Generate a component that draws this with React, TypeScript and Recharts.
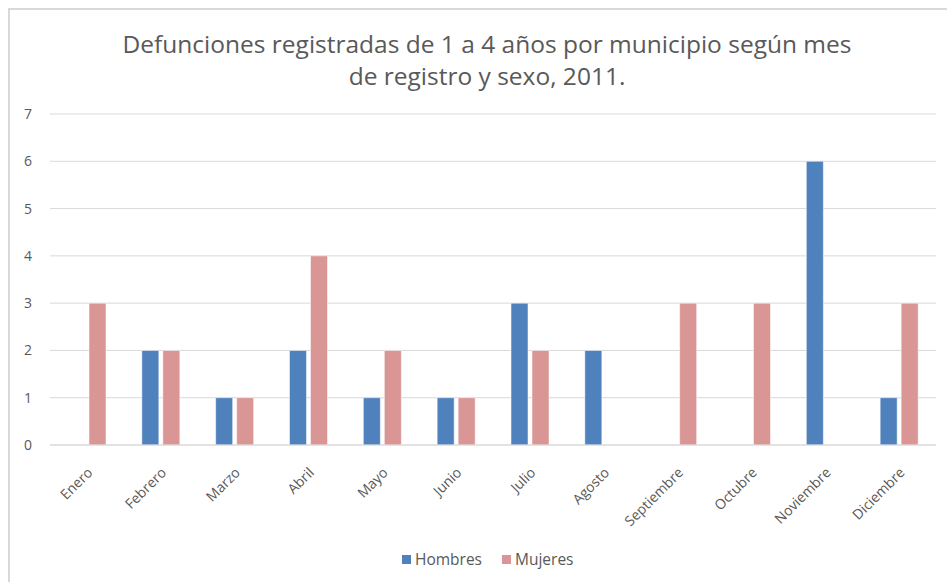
import { Bar, BarChart, CartesianGrid, XAxis, YAxis } from "recharts"

const months = ["Enero", "Febrero", "Marzo", "Abril", "Mayo", "Junio", "Julio", "Agosto", "Septiembre", "Octubre", "Noviembre", "Diciembre"]
const hombres = [0, 2, 1, 2, 1, 1, 3, 2, 0, 0, 6, 1]
const mujeres = [3, 2, 1, 4, 2, 1, 2, 0, 3, 3, 0, 3]
const yTicks = [0, 1, 2, 3, 4, 5, 6, 7]
const titleLines = ["Defunciones registradas de 1 a 4 años por municipio según mes", "de registro y sexo, 2011."]

const data = months.map((m, i) => ({ month: m, Hombres: hombres[i], Mujeres: mujeres[i] }))

const BLUE = "#4F81BD"
const PINK = "#D99694"
const TEXT = "#595959"
const FONT = "'Open Sans', sans-serif"

function MonthTick({ x, y, payload }: any) {
    return (
        <g transform={`translate(${x + 3},${y + 17}) rotate(-45)`}>
            <text x={0} y={0} dy="0.35em" textAnchor="end" fill={TEXT} fontSize={14} fontFamily={FONT}>
                {payload.value}
            </text>
        </g>
    )
}

export default function App() {
    return (
        <div style={{ position: "absolute", left: 0, top: 0, width: 947, height: 582, background: "#fff", overflow: "hidden" }}>
            <div style={{ position: "absolute", left: 8, top: 8, width: 960, height: 600, border: "2px solid #D9D9D9" }} />
            <svg style={{ position: "absolute", left: 0, top: 0 }} width={947} height={110}>
                {titleLines.map((t, i) => (
                    <text key={i} x={487} y={53 + i * 32} textAnchor="middle" fill={TEXT} fontSize={24.5} fontFamily={FONT}>
                        {t}
                    </text>
                ))}
            </svg>
            <div style={{ position: "absolute", left: 0, top: 0 }}>
                <BarChart width={947} height={582} data={data} margin={{ top: 114, right: 11, bottom: 47, left: 0 }} barSize={17} barGap={4}>
                    <CartesianGrid vertical={false} stroke="#D9D9D9" />
                    <XAxis dataKey="month" interval={0} tickLine={false} axisLine={{ stroke: "#D9D9D9" }} tick={<MonthTick />} height={90} />
                    <YAxis
                        width={50}
                        domain={[0, 7]}
                        ticks={yTicks}
                        tickLine={false}
                        axisLine={false}
                        tickSize={0}
                        tickMargin={18}
                        tick={{ fill: TEXT, fontSize: 14, fontFamily: FONT }}
                    />
                    <Bar dataKey="Hombres" fill={BLUE} stroke="#fff" strokeWidth={0.5} isAnimationActive={false} />
                    <Bar dataKey="Mujeres" fill={PINK} stroke="#fff" strokeWidth={0.5} isAnimationActive={false} />
                </BarChart>
            </div>
            <svg style={{ position: "absolute", left: 0, top: 545 }} width={947} height={30}>
                <rect x={402} y={10} width={9} height={9} fill={BLUE} />
                <text x={415} y={19.5} fill={TEXT} fontSize={15.5} fontFamily={FONT}>Hombres</text>
                <rect x={502} y={10} width={9} height={9} fill={PINK} />
                <text x={515} y={19.5} fill={TEXT} fontSize={15.5} fontFamily={FONT}>Mujeres</text>
            </svg>
        </div>
    )
}
